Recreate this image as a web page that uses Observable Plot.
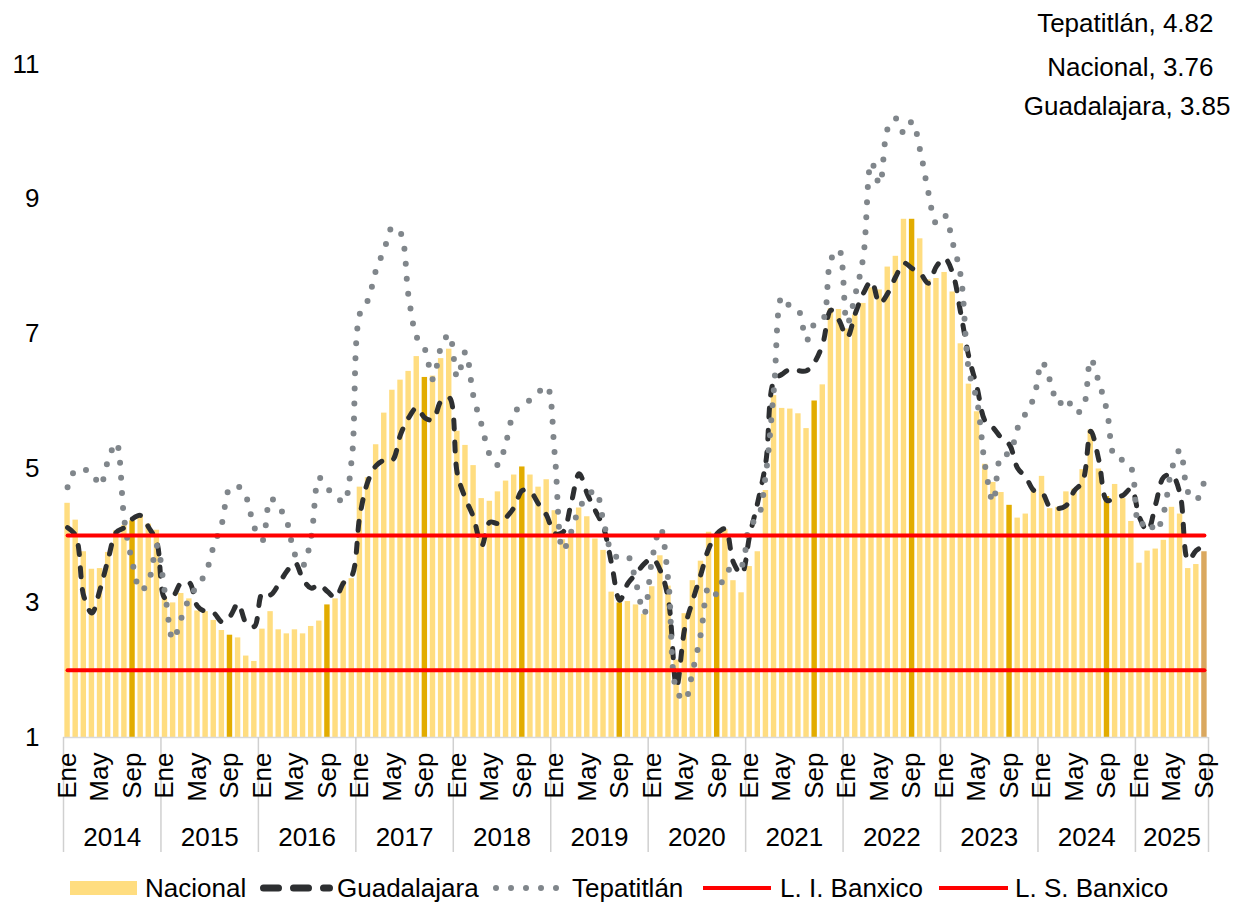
<!DOCTYPE html>
<html>
<head>
<meta charset="utf-8">
<script src="https://cdn.jsdelivr.net/npm/d3@7"></script>
<script src="https://cdn.jsdelivr.net/npm/@observablehq/plot@0.6"></script>
<style>
  html, body { margin: 0; padding: 0; background: #fff; overflow: hidden; }
  body { width: 1238px; height: 903px; font-family: "Liberation Sans", Arial, sans-serif; }
  #legend { position: relative; width: 1238px; height: 38px; font-size: 26px; color: #000; }
  #legend .it { position: absolute; top: 4px; line-height: 38px; white-space: nowrap; }
  #legend svg { position: absolute; top: 4px; }
</style>
</head>
<body>
<div id="chart"></div>
<div id="legend"></div>
<script>
// ---------- DATA ----------
const years = [2014, 2015, 2016, 2017, 2018, 2019, 2020, 2021, 2022, 2023, 2024, 2025];
const tickMonths = [0, 4, 8];
const tickMonthNames = ["Ene", "May", "Sep"];
const yTicks = [1, 3, 5, 7, 9, 11];
const yMin = 1, yMax = 11;
const banxicoLow = 2;
const banxicoHigh = 4;

const nacional = [
  4.48, 4.23, 3.76, 3.50, 3.51, 3.75, 4.07, 4.15, 4.22, 4.30, 4.17, 4.08,
  3.07, 3.00, 3.14, 3.06, 2.88, 2.87, 2.74, 2.59, 2.52, 2.48, 2.21, 2.13,
  2.61, 2.87, 2.60, 2.54, 2.60, 2.54, 2.65, 2.73, 2.97, 3.06, 3.31, 3.36,
  4.72, 4.86, 5.35, 5.82, 6.16, 6.31, 6.44, 6.66, 6.35, 6.37, 6.63, 6.77,
  5.55, 5.34, 5.04, 4.55, 4.51, 4.65, 4.81, 4.90, 5.02, 4.90, 4.72, 4.83,
  4.37, 3.94, 4.00, 4.41, 4.28, 3.95, 3.78, 3.16, 3.00, 3.02, 2.97, 2.83,
  3.24, 3.70, 3.25, 2.15, 2.84, 3.33, 3.62, 4.05, 4.01, 4.09, 3.33, 3.15,
  3.54, 3.76, 4.67, 6.08, 5.89, 5.88, 5.81, 5.59, 6.00, 6.24, 7.37, 7.36,
  7.07, 7.28, 7.45, 7.68, 7.65, 7.99, 8.15, 8.70, 8.70, 8.41, 7.80, 7.82,
  7.91, 7.62, 6.85, 6.25, 5.84, 5.06, 4.79, 4.64, 4.45, 4.26, 4.32, 4.66,
  4.88, 4.40, 4.42, 4.65, 4.69, 4.98, 5.57, 4.99, 4.58, 4.76, 4.55, 4.21,
  3.59, 3.77, 3.80, 3.93, 4.42, 4.32, 3.51, 3.57, 3.76
];

const guadalajara = [
  4.12, 4.00, 3.10, 2.85, 3.20, 3.65, 4.05, 4.12, 4.25, 4.30, 4.12, 3.90,
  3.07, 3.10, 3.30, 3.30, 2.95, 2.87, 2.85, 2.72, 2.80, 2.99, 2.70, 2.65,
  3.15, 3.12, 3.28, 3.47, 3.60, 3.35, 3.22, 3.27, 3.17, 3.08, 3.30, 3.40,
  4.30, 4.81, 5.04, 5.12, 5.12, 5.50, 5.75, 5.90, 5.75, 5.72, 6.00, 6.05,
  4.92, 4.55, 4.27, 3.85, 4.20, 4.18, 4.27, 4.42, 4.67, 4.65, 4.47, 4.30,
  4.03, 4.05, 4.47, 4.92, 4.62, 4.37, 4.12, 3.58, 3.04, 3.29, 3.43, 3.58,
  3.66, 3.48, 3.04, 1.75, 2.62, 3.04, 3.43, 3.82, 4.03, 4.10, 3.60, 3.43,
  4.00, 4.50, 5.10, 6.30, 6.40, 6.47, 6.45, 6.45, 6.58, 6.85, 7.35, 7.20,
  6.95, 7.30, 7.60, 7.78, 7.45, 7.60, 7.85, 8.05, 7.97, 7.90, 7.75, 8.00,
  8.12, 7.90, 7.30, 6.65, 6.20, 5.70, 5.60, 5.45, 5.35, 5.00, 4.87, 4.67,
  4.64, 4.42, 4.40, 4.45, 4.67, 4.80, 5.55, 5.12, 4.52, 4.57, 4.60, 4.70,
  4.27, 4.07, 4.47, 4.87, 4.90, 4.62, 3.63, 3.78, 3.85
];

const tepatitlan = [
  4.72, 4.98, 4.98, 4.94, 4.74, 5.12, 5.38, 4.22, 3.59, 3.18, 3.33, 3.85,
  3.14, 2.45, 2.77, 3.07, 3.26, 3.44, 3.85, 4.18, 4.71, 4.73, 4.57, 4.12,
  3.93, 4.55, 4.43, 4.21, 3.72, 3.56, 3.98, 4.86, 4.70, 4.60, 4.49, 5.14,
  7.30, 7.50, 7.95, 8.25, 8.58, 8.50, 7.55, 6.95, 6.77, 6.32, 6.80, 6.99,
  6.35, 6.73, 6.06, 5.64, 5.20, 5.05, 5.39, 5.83, 5.93, 6.02, 6.13, 6.22,
  5.20, 3.78, 4.05, 4.40, 4.58, 4.67, 4.21, 3.76, 3.66, 3.69, 3.30, 2.84,
  3.66, 4.11, 3.30, 1.70, 1.55, 2.00, 2.55, 3.24, 3.12, 3.45, 3.52, 3.55,
  4.15, 4.26, 4.93, 6.20, 7.55, 7.40, 7.35, 6.90, 7.15, 7.20, 8.10, 8.25,
  7.15, 7.58, 8.15, 9.55, 9.22, 10.05, 10.20, 9.98, 10.15, 9.72, 9.10, 8.64,
  8.76, 8.35, 7.85, 6.45, 6.00, 5.03, 4.50, 5.20, 5.22, 5.60, 5.82, 6.05,
  6.58, 6.30, 5.95, 6.05, 5.83, 5.88, 6.62, 6.28, 5.85, 5.15, 5.12, 5.00,
  4.15, 4.23, 4.06, 4.35, 5.00, 5.27, 4.64, 4.53, 4.82
];

// ---------- TABLES BUILT FROM DATA ----------
const rows = nacional.map((v, i) => ({
  i, month: i % 12, year: years[Math.floor(i / 12)],
  nac: v, gdl: guadalajara[i], tep: tepatitlan[i]
}));
const lastIdx = rows.length - 1;
const monthTickRows = rows.filter(d => tickMonths.includes(d.month));
const yearRows = years.map(y => {
  const r = rows.filter(d => d.year === y);
  return { year: y, center: (r[0].i + r[r.length - 1].i) / 2 };
});
const yearBounds = years.map(y => rows.find(d => d.year === y).i - 0.5).concat([lastIdx + 0.5]);

const cLight = "#FFDD80", cDark = "#E2AC00", cLast = "#DAA85F";
const cGdl = "#2d2f31", cTep = "#80868b", cRed = "#FF0000";
const FONT = "'Liberation Sans', Arial, sans-serif";

const chart = Plot.plot({
  width: 1238,
  height: 865,
  marginLeft: 63,
  marginRight: 30,
  marginTop: 64,
  marginBottom: 128,
  x: { type: "linear", domain: [-0.5, lastIdx + 0.5], axis: null },
  y: { domain: [yMin, yMax], axis: null },
  style: { fontFamily: FONT, fontSize: "26px", color: "#000", background: "#fff", overflow: "visible" },
  marks: [
    // bars
    Plot.rectY(rows.filter(d => d.month !== 8), {
      x1: d => d.i - 0.5, x2: d => d.i + 0.5, y1: () => yMin, y2: "nac",
      fill: cLight, insetLeft: 1.35, insetRight: 1.35
    }),
    Plot.rectY(rows.filter(d => d.month === 8 && d.i !== lastIdx), {
      x1: d => d.i - 0.5, x2: d => d.i + 0.5, y1: () => yMin, y2: "nac",
      fill: cDark, insetLeft: 1.35, insetRight: 1.35
    }),
    Plot.rectY(rows.filter(d => d.i === lastIdx), {
      x1: d => d.i - 0.5, x2: d => d.i + 0.5, y1: () => yMin, y2: "nac",
      fill: cLast, insetLeft: 1.35, insetRight: 1.35
    }),
    // x axis line
    Plot.ruleY([yMin], { stroke: "#d9d9d9", strokeWidth: 1.5 }),
    // year separators
    Plot.ruleX(yearBounds, { x: d => d, stroke: "#d0d0d0", strokeWidth: 1.5, insetTop: 673, insetBottom: -115 }),
    // month labels
    Plot.text(monthTickRows, {
      x: "i", text: d => tickMonthNames[tickMonths.indexOf(d.month)],
      frameAnchor: "bottom", lineAnchor: "middle", rotate: -90, textAnchor: "end", dy: 15, fill: "#000"
    }),
    // year labels
    Plot.text(yearRows, { x: "center", text: d => String(d.year), frameAnchor: "bottom", lineAnchor: "middle", dy: 100, fill: "#000" }),
    // y tick labels
    Plot.text(yTicks, { y: d => d, text: d => String(d), frameAnchor: "left", lineAnchor: "middle", textAnchor: "end", dx: -24, fill: "#000" }),
    // Guadalajara dashed
    Plot.line(rows, {
      x: "i", y: "gdl", stroke: cGdl, strokeWidth: 5, strokeDasharray: "9,13",
      strokeLinecap: "round", strokeLinejoin: "round", curve: "catmull-rom"
    }),
    // Tepatitlán dotted
    Plot.line(rows, {
      x: "i", y: "tep", stroke: cTep, strokeWidth: 6, strokeDasharray: "0,15",
      strokeLinecap: "round", strokeLinejoin: "round", curve: "catmull-rom"
    }),
    // Banxico limits
    Plot.line(rows, { x: "i", y: () => banxicoLow, stroke: cRed, strokeWidth: 4, strokeLinecap: "round" }),
    Plot.line(rows, { x: "i", y: () => banxicoHigh, stroke: cRed, strokeWidth: 4, strokeLinecap: "round" }),
    // last-value labels
    Plot.text([rows[lastIdx]], {
      frameAnchor: "top-right", lineAnchor: "middle", textAnchor: "end", dx: 5, dy: -41, fill: "#000",
      text: d => `Tepatitlán, ${d.tep.toFixed(2)}`
    }),
    Plot.text([rows[lastIdx]], {
      frameAnchor: "top-right", lineAnchor: "middle", textAnchor: "end", dx: 5, dy: 3, fill: "#000",
      text: d => `Nacional, ${d.nac.toFixed(2)}`
    }),
    Plot.text([rows[lastIdx]], {
      frameAnchor: "top-right", lineAnchor: "middle", textAnchor: "end", dx: 22, dy: 42, fill: "#000",
      text: d => `Guadalajara, ${d.gdl.toFixed(2)}`
    })
  ]
});
document.getElementById("chart").appendChild(chart);

// ---------- LEGEND ----------
const legend = document.getElementById("legend");
const NS = "http://www.w3.org/2000/svg";
function swatch(left, width, draw) {
  const s = document.createElementNS(NS, "svg");
  s.setAttribute("width", width);
  s.setAttribute("height", 38);
  s.style.left = left + "px";
  draw(s);
  legend.appendChild(s);
}
function el(parent, tag, attrs) {
  const e = document.createElementNS(NS, tag);
  for (const k in attrs) e.setAttribute(k, attrs[k]);
  parent.appendChild(e);
}
function label(left, text) {
  const d = document.createElement("div");
  d.className = "it";
  d.style.left = left + "px";
  d.textContent = text;
  legend.appendChild(d);
}
swatch(70, 67, s => el(s, "rect", { x: 0, y: 12, width: 67, height: 14, fill: cLight }));
label(145, "Nacional");
swatch(258, 76, s => el(s, "line", { x1: 5.5, x2: 71.5, y1: 19, y2: 19, stroke: cGdl, "stroke-width": 7, "stroke-dasharray": "15,15", "stroke-linecap": "round" }));
label(337, "Guadalajara");
swatch(490, 74, s => el(s, "line", { x1: 6, x2: 67, y1: 19, y2: 19, stroke: cTep, "stroke-width": 6, "stroke-dasharray": "0,15", "stroke-linecap": "round" }));
label(572, "Tepatitlán");
swatch(703, 68, s => el(s, "line", { x1: 0, x2: 68, y1: 19, y2: 19, stroke: cRed, "stroke-width": 4 }));
label(780, "L. I. Banxico");
swatch(939, 69, s => el(s, "line", { x1: 0, x2: 69, y1: 19, y2: 19, stroke: cRed, "stroke-width": 4 }));
label(1015, "L. S. Banxico");
</script>
</body>
</html>
